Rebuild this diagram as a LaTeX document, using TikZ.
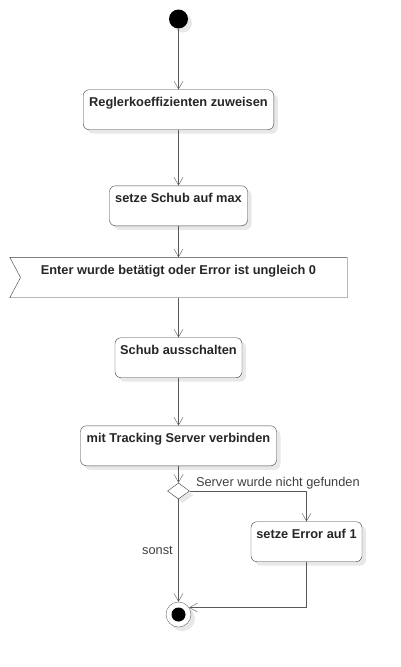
\documentclass[tikz,border=0pt]{standalone}
\usepackage{fontspec}
\setmainfont{Liberation Sans}
\usepackage{tikz}
\usetikzlibrary{shapes.geometric}
\usetikzlibrary{arrows.meta}
\usetikzlibrary{shadows}
\usetikzlibrary{backgrounds}

\begin{document}
\begin{tikzpicture}[x=1pt, y=-1pt,
    font=\fontsize{12.8}{15}\selectfont,
    shade/.style={drop shadow={shadow xshift=4pt, shadow yshift=-4pt, fill=black!9, opacity=1}},
    boxtext/.style={font=\fontsize{12.8}{15}\selectfont\bfseries, text=black!85,
      inner xsep=3pt, inner ysep=4pt, text height=13pt, text depth=19pt},
    action/.style={boxtext, draw=black!75, fill=white, rounded corners=6pt, shade},
    event/.style={boxtext, minimum width=337pt},
    flow/.style={draw=black!65, -{Straight Barb[length=8pt, width=9pt]}},
    lbl/.style={text=black!75, inner sep=1.5pt}]
    \useasboundingbox (0,0) rectangle (401,667);
    % nodes
    \node [circle, fill=black, minimum size=19pt, inner sep=0pt, shade] (start) at (178.5,19) {};
    \node [action, minimum width=190.6pt] (coef) at (178.5,109.7) {Reglerkoeffizienten zuweisen};
    \node [action, minimum width=138pt] (thrust) at (178.5,205.8) {setze Schub auf max};
    \node [event] (wait) at (178.5,277.5) {Enter wurde betätigt oder Error ist ungleich 0};
    \node [action, minimum width=127pt] (off) at (178.5,357.7) {Schub ausschalten};
    \node [action, minimum width=196pt] (connect) at (178.5,445.8) {mit Tracking Server verbinden};
    \node [diamond, draw=black!75, fill=white, shade, inner sep=0pt,
      minimum width=22pt, minimum height=16pt] (dec) at (178.5,491) {};
    \node [action, minimum width=111pt] (err) at (306.5,541.7) {setze Error auf 1};
    \node [circle, draw=black!60, fill=white, shade, minimum size=25pt, inner sep=0pt,
      path picture={\fill [black] (path picture bounding box.center) circle (7pt);}] (stop) at (178.5,614.5) {};
    % accept event shape behind its text
    \begin{scope}[on background layer]
    \fill [black!9, shift={(4pt,-4pt)}] (wait.north west) -- (wait.north east) -- (wait.south east)
      -- (wait.south west) -- ([xshift=10.7pt]wait.west) -- cycle;
    \filldraw [draw=black!75, fill=white] (wait.north west) -- (wait.north east) -- (wait.south east)
      -- (wait.south west) -- ([xshift=10.7pt]wait.west) -- cycle;
    \end{scope}
    % connectors
    \draw [flow] (start) -- (coef);
    \draw [flow] (coef) -- (thrust);
    \draw [flow] (thrust) -- (wait);
    \draw [flow] (wait) -- (off);
    \draw [flow] (off) -- (connect);
    \draw [flow] (connect) -- (dec);
    \draw [flow] (dec.east) -| node [lbl, pos=0.02, anchor=south west] {Server wurde nicht gefunden} (err.north);
    \draw [flow] (dec.south) -- node [lbl, left=4pt] {sonst} (stop);
    \draw [flow] (err.south) |- (stop.33);
\end{tikzpicture}
\end{document}
